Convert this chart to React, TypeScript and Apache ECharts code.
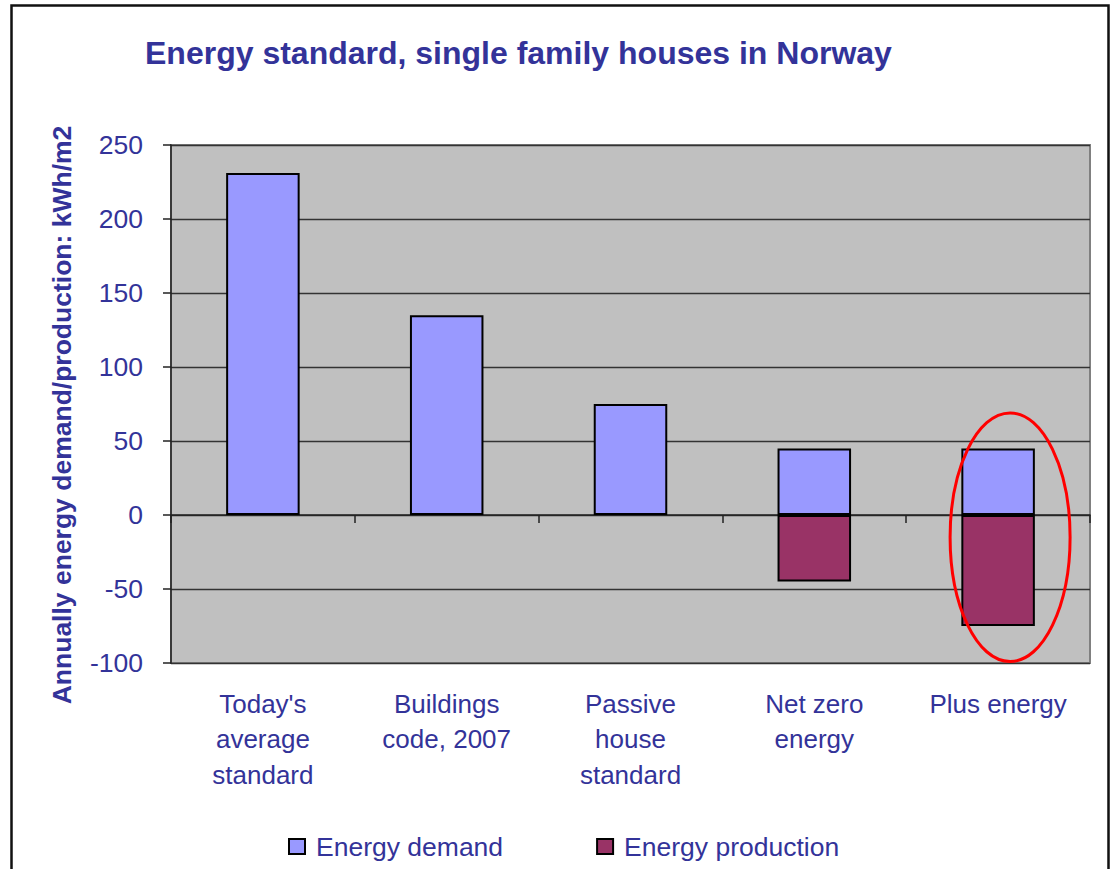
import React, { useEffect, useRef } from "react";
import * as echarts from "echarts";

const categories = [
  "Today's\naverage\nstandard",
  "Buildings\ncode, 2007",
  "Passive\nhouse\nstandard",
  "Net zero\nenergy",
  "Plus energy",
];
const demand = [231, 135, 75, 45, 45];
const production: (number | string)[] = ["-", "-", "-", -45, -75];
const yTicks = { min: -100, max: 250, interval: 50 };

const TEXT = "#333399";
const FONT = "Liberation Sans, Arial, sans-serif";

export default function App() {
  const ref = useRef<HTMLDivElement>(null);
  useEffect(() => {
    if (!ref.current) return;
    const chart = echarts.init(ref.current, undefined, { renderer: "svg" });
    const option: any = {
      animation: false,
      textStyle: { fontFamily: FONT },
      title: {
        text: "Energy standard, single family houses in Norway",
        left: 140,
        top: 32,
        textStyle: { color: TEXT, fontSize: 32, fontWeight: "bold", fontFamily: FONT },
      },
      legend: {
        left: 288,
        top: 833,
        padding: 0,
        icon: "rect",
        itemWidth: 16,
        itemHeight: 15,
        itemGap: 93,
        textStyle: { color: TEXT, fontSize: 26.5, fontFamily: FONT, padding: [0, 0, 0, 6] },
        itemStyle: { borderColor: "#000", borderWidth: 2 },
        data: ["Energy demand", "Energy production"],
      },
      grid: {
        left: 171,
        top: 145,
        width: 919,
        height: 518,
        show: true,
        backgroundColor: "#C0C0C0",
        borderColor: "#808080",
        borderWidth: 2,
        containLabel: false,
        outerBoundsMode: "none",
      },
      xAxis: [
        {
          type: "category",
          data: categories,
          position: "bottom",
          axisLine: { onZero: true, lineStyle: { color: "#222", width: 1.5 } },
          axisTick: { show: true, length: 8, interval: 0, lineStyle: { color: "#222", width: 1.5 } },
          axisLabel: { show: false },
        },
        {
          type: "category",
          data: categories,
          position: "bottom",
          axisLine: { show: false, onZero: false },
          axisTick: { show: false },
          axisLabel: {
            interval: 0,
            margin: 23,
            color: TEXT,
            fontSize: 26,
            lineHeight: 35.5,
            fontFamily: FONT,
          },
        },
      ],
      yAxis: {
        type: "value",
        min: yTicks.min,
        max: yTicks.max,
        interval: yTicks.interval,
        axisLine: { show: true, lineStyle: { color: "#222", width: 1.5 } },
        axisTick: { show: true, length: 8, lineStyle: { color: "#222", width: 1.5 } },
        axisLabel: { color: TEXT, fontSize: 26.5, margin: 28, fontFamily: FONT },
        splitLine: { show: true, lineStyle: { color: "#333", width: 1.3 } },
      },
      series: [
        {
          name: "Energy demand",
          type: "bar",
          stack: "total",
          xAxisIndex: 0,
          data: demand,
          barWidth: "40%",
          itemStyle: { color: "#9999FF", borderColor: "#000", borderWidth: 2 },
        },
        {
          name: "Energy production",
          type: "bar",
          stack: "total",
          xAxisIndex: 0,
          data: production,
          barWidth: "40%",
          itemStyle: { color: "#993366", borderColor: "#000", borderWidth: 2 },
        },
      ],
    };
    chart.setOption(option);

    const c = chart.convertToPixel({ xAxisIndex: 0, yAxisIndex: 0 }, [4, -15]) as number[];
    const top = chart.convertToPixel({ xAxisIndex: 0, yAxisIndex: 0 }, [4, 69]) as number[];
    const ry = c[1] - top[1];
    chart.setOption({
      graphic: [
        {
          type: "rect",
          shape: { x: 11.5, y: 5.5, width: 1097, height: 900 },
          style: { fill: "none", stroke: "#111", lineWidth: 2.5 },
          silent: true,
        },
        {
          type: "text",
          x: 62,
          y: 415,
          rotation: Math.PI / 2,
          style: {
            text: "Annually energy demand/production: kWh/m2",
            fill: TEXT,
            font: `bold 26.5px ${FONT}`,
            align: "center",
            verticalAlign: "middle",
          },
        },
        {
          type: "ellipse",
          shape: { cx: c[0] + 12, cy: c[1], rx: 60, ry },
          style: { fill: "none", stroke: "#FF0000", lineWidth: 3 },
          z: 10,
        },
      ],
    });
    return () => chart.dispose();
  }, []);
  return (
    <div
      ref={ref}
      style={{ position: "fixed", left: 0, top: 0, width: 1112, height: 869, background: "#fff" }}
    />
  );
}
